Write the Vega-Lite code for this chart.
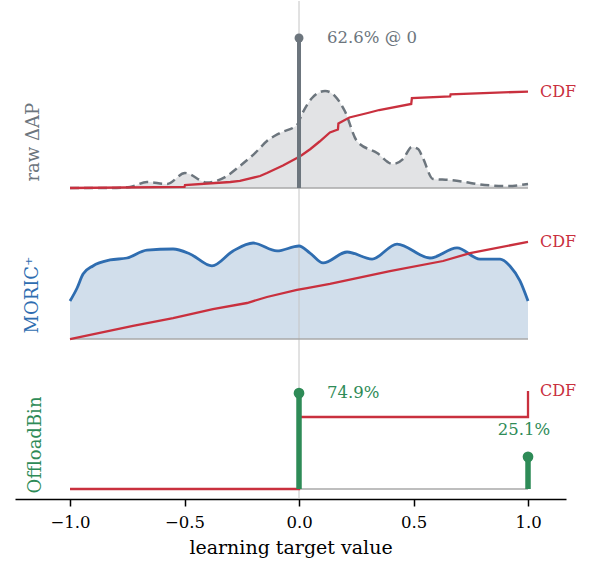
{
  "$schema": "https://vega.github.io/schema/vega-lite/v6.json",
  "padding": {"left": 15, "top": 0, "right": 28, "bottom": 5},
  "spacing": 0,
  "bounds": "flush",
  "config": {
    "font": "DejaVu Serif",
    "view": {"stroke": null},
    "axis": {"grid": false}
  },
  "datasets": {
    "rawDensity": [
      {"x": -1.0, "d": 0.0}, {"x": -0.825, "d": 0.0}, {"x": -0.738, "d": 0.007}, {"x": -0.664, "d": 0.04},
      {"x": -0.576, "d": 0.027}, {"x": -0.498, "d": 0.1}, {"x": -0.402, "d": 0.037}, {"x": -0.323, "d": 0.073},
      {"x": -0.258, "d": 0.147}, {"x": -0.192, "d": 0.233}, {"x": -0.14, "d": 0.313}, {"x": -0.083, "d": 0.367},
      {"x": -0.009, "d": 0.42}, {"x": 0.013, "d": 0.493}, {"x": 0.057, "d": 0.6}, {"x": 0.114, "d": 0.647},
      {"x": 0.157, "d": 0.613}, {"x": 0.2, "d": 0.513}, {"x": 0.253, "d": 0.313}, {"x": 0.341, "d": 0.233},
      {"x": 0.41, "d": 0.16}, {"x": 0.454, "d": 0.193}, {"x": 0.493, "d": 0.273}, {"x": 0.52, "d": 0.26},
      {"x": 0.541, "d": 0.2}, {"x": 0.585, "d": 0.06}, {"x": 0.659, "d": 0.053}, {"x": 0.725, "d": 0.04},
      {"x": 0.777, "d": 0.027}, {"x": 0.908, "d": 0.013}, {"x": 1.0, "d": 0.027}
    ],
    "rawCdf": [
      {"x": -1.0, "c": 0.0}, {"x": -0.5, "c": 0.007}, {"x": -0.498, "c": 0.02}, {"x": -0.3, "c": 0.04},
      {"x": -0.258, "c": 0.047}, {"x": -0.17, "c": 0.08}, {"x": -0.14, "c": 0.1}, {"x": -0.07, "c": 0.15},
      {"x": -0.009, "c": 0.2}, {"x": 0.013, "c": 0.22}, {"x": 0.05, "c": 0.26}, {"x": 0.09, "c": 0.31},
      {"x": 0.135, "c": 0.37}, {"x": 0.17, "c": 0.39}, {"x": 0.172, "c": 0.43}, {"x": 0.22, "c": 0.47},
      {"x": 0.3, "c": 0.5}, {"x": 0.35, "c": 0.52}, {"x": 0.49, "c": 0.56}, {"x": 0.493, "c": 0.6},
      {"x": 0.66, "c": 0.61}, {"x": 0.662, "c": 0.625}, {"x": 1.0, "c": 0.643}
    ],
    "rawStem": [{"x": 0, "h": 1.0, "label": "62.6% @ 0"}],
    "moricDensity": [
      {"x": -1.0, "d": 0.253}, {"x": -0.969, "d": 0.34}, {"x": -0.943, "d": 0.433}, {"x": -0.9, "d": 0.487},
      {"x": -0.825, "d": 0.527}, {"x": -0.751, "d": 0.54}, {"x": -0.664, "d": 0.593}, {"x": -0.55, "d": 0.6},
      {"x": -0.476, "d": 0.567}, {"x": -0.38, "d": 0.487}, {"x": -0.288, "d": 0.587}, {"x": -0.2, "d": 0.64},
      {"x": -0.096, "d": 0.587}, {"x": 0.0, "d": 0.62}, {"x": 0.048, "d": 0.573}, {"x": 0.105, "d": 0.507},
      {"x": 0.21, "d": 0.58}, {"x": 0.319, "d": 0.533}, {"x": 0.428, "d": 0.633}, {"x": 0.572, "d": 0.54},
      {"x": 0.69, "d": 0.607}, {"x": 0.79, "d": 0.533}, {"x": 0.878, "d": 0.533}, {"x": 0.921, "d": 0.487},
      {"x": 0.965, "d": 0.387}, {"x": 1.0, "d": 0.253}
    ],
    "moricCdf": [
      {"x": -1.0, "c": 0.0}, {"x": -0.725, "c": 0.087}, {"x": -0.55, "c": 0.14}, {"x": -0.376, "c": 0.2},
      {"x": -0.227, "c": 0.24}, {"x": -0.14, "c": 0.28}, {"x": -0.009, "c": 0.327}, {"x": 0.035, "c": 0.34},
      {"x": 0.135, "c": 0.367}, {"x": 0.397, "c": 0.453}, {"x": 0.629, "c": 0.52}, {"x": 0.747, "c": 0.573},
      {"x": 1.0, "c": 0.647}
    ],
    "binCdf": [
      {"i": 0, "x": -1.0, "c": 0.0}, {"i": 1, "x": 0.0, "c": 0.0}, {"i": 2, "x": 0.0, "c": 0.5625},
      {"i": 3, "x": 1.0, "c": 0.5625}, {"i": 4, "x": 1.0, "c": 0.766}
    ],
    "binStem": [
      {"x": 0, "p": 0.749, "label": "74.9%"},
      {"x": 1, "p": 0.251, "label": "25.1%"}
    ],
    "one": [{"z": 0}],
    "base": [{"a": -1, "b": 1, "z": 0}]
  },
  "vconcat": [
    {
      "width": 551,
      "height": 190,
      "layer": [
        {
          "data": {"name": "rawDensity"},
          "mark": {"type": "area", "color": "#e2e3e5", "interpolate": "monotone"},
          "encoding": {
            "x": {"field": "x", "type": "quantitative", "scale": {"domain": [-1.2402, 1.1659], "nice": false, "zero": false}, "axis": null},
            "y": {"field": "d", "type": "quantitative", "scale": {"domain": [-0.02, 1.2467], "nice": false, "zero": false},
              "axis": {"title": "raw ΔAP", "domain": false, "ticks": false, "labels": false, "titleX": 23, "titleY": 180,
                "titleAngle": -90, "titleAlign": "left", "titleBaseline": "alphabetic", "titleColor": "#6c757d",
                "titleFontSize": 18, "titleFontWeight": "normal"}}
          }
        },
        {
          "data": {"name": "one"},
          "mark": {"type": "rule", "color": "#c4c4c4", "strokeWidth": 1},
          "encoding": {"x": {"field": "z", "type": "quantitative", "axis": null}}
        },
        {
          "data": {"name": "base"},
          "mark": {"type": "rule", "color": "#a8a8a8", "strokeWidth": 1.5},
          "encoding": {"x": {"field": "a", "type": "quantitative", "axis": null}, "x2": {"field": "b"}, "y": {"field": "z", "type": "quantitative"}}
        },
        {
          "data": {"name": "rawDensity"},
          "mark": {"type": "line", "color": "#6c757d", "strokeWidth": 2.5, "strokeDash": [9, 5], "interpolate": "monotone"},
          "encoding": {"x": {"field": "x", "type": "quantitative", "axis": null}, "y": {"field": "d", "type": "quantitative"}}
        },
        {
          "data": {"name": "rawCdf"},
          "mark": {"type": "line", "color": "#c9303e", "strokeWidth": 2.3},
          "encoding": {"x": {"field": "x", "type": "quantitative", "axis": null}, "y": {"field": "c", "type": "quantitative"}}
        },
        {
          "data": {"name": "rawStem"},
          "mark": {"type": "rule", "color": "#6c757d", "strokeWidth": 4},
          "encoding": {"x": {"field": "x", "type": "quantitative", "axis": null}, "y": {"field": "h", "type": "quantitative"}, "y2": {"datum": 0}}
        },
        {
          "data": {"name": "rawStem"},
          "mark": {"type": "point", "filled": true, "color": "#6c757d", "size": 80, "opacity": 1},
          "encoding": {"x": {"field": "x", "type": "quantitative", "axis": null}, "y": {"field": "h", "type": "quantitative"}}
        },
        {
          "data": {"name": "rawStem"},
          "mark": {"type": "text", "color": "#6c757d", "fontSize": 16.5, "align": "left", "baseline": "middle", "dx": 28},
          "encoding": {"x": {"field": "x", "type": "quantitative", "axis": null}, "y": {"field": "h", "type": "quantitative"}, "text": {"field": "label"}}
        },
        {
          "data": {"values": [{"x": 1.0, "c": 0.643, "label": "CDF"}]},
          "mark": {"type": "text", "color": "#c9303e", "fontSize": 16, "align": "left", "baseline": "middle", "dx": 12},
          "encoding": {"x": {"field": "x", "type": "quantitative", "axis": null}, "y": {"field": "c", "type": "quantitative"}, "text": {"field": "label"}}
        }
      ]
    },
    {
      "width": 551,
      "height": 150,
      "layer": [
        {
          "data": {"name": "moricDensity"},
          "mark": {"type": "area", "color": "#d1deeb", "interpolate": "monotone"},
          "encoding": {
            "x": {"field": "x", "type": "quantitative", "scale": {"domain": [-1.2402, 1.1659], "nice": false, "zero": false}, "axis": null},
            "y": {"field": "d", "type": "quantitative", "scale": {"domain": [-0.0133, 0.9867], "nice": false, "zero": false},
              "axis": {"title": "MORIC⁺", "domain": false, "ticks": false, "labels": false, "titleX": 22, "titleY": 142,
                "titleAngle": -90, "titleAlign": "left", "titleBaseline": "alphabetic", "titleColor": "#2f6db0",
                "titleFontSize": 18, "titleFontWeight": "normal"}}
          }
        },
        {
          "data": {"name": "one"},
          "mark": {"type": "rule", "color": "#c4c4c4", "strokeWidth": 1},
          "encoding": {"x": {"field": "z", "type": "quantitative", "axis": null}}
        },
        {
          "data": {"name": "base"},
          "mark": {"type": "rule", "color": "#a8a8a8", "strokeWidth": 1.5},
          "encoding": {"x": {"field": "a", "type": "quantitative", "axis": null}, "x2": {"field": "b"}, "y": {"field": "z", "type": "quantitative"}}
        },
        {
          "data": {"name": "moricDensity"},
          "mark": {"type": "line", "color": "#2f6db0", "strokeWidth": 2.8, "interpolate": "monotone"},
          "encoding": {"x": {"field": "x", "type": "quantitative", "axis": null}, "y": {"field": "d", "type": "quantitative"}}
        },
        {
          "data": {"name": "moricCdf"},
          "mark": {"type": "line", "color": "#c9303e", "strokeWidth": 2.3},
          "encoding": {"x": {"field": "x", "type": "quantitative", "axis": null}, "y": {"field": "c", "type": "quantitative"}}
        },
        {
          "data": {"values": [{"x": 1.0, "c": 0.647, "label": "CDF"}]},
          "mark": {"type": "text", "color": "#c9303e", "fontSize": 16, "align": "left", "baseline": "middle", "dx": 12},
          "encoding": {"x": {"field": "x", "type": "quantitative", "axis": null}, "y": {"field": "c", "type": "quantitative"}, "text": {"field": "label"}}
        }
      ]
    },
    {
      "width": 551,
      "height": 158,
      "layer": [
        {
          "data": {"name": "one"},
          "mark": {"type": "rule", "color": "#c4c4c4", "strokeWidth": 1},
          "encoding": {"x": {"field": "z", "type": "quantitative"}}
        },
        {
          "data": {"name": "base"},
          "mark": {"type": "rule", "color": "#a8a8a8", "strokeWidth": 1.5},
          "encoding": {"x": {"field": "a", "type": "quantitative"}, "x2": {"field": "b"}, "y": {"field": "z", "type": "quantitative"}}
        },
        {
          "data": {"name": "binCdf"},
          "mark": {"type": "line", "color": "#c9303e", "strokeWidth": 2.3},
          "encoding": {
            "x": {"field": "x", "type": "quantitative", "scale": {"domain": [-1.2402, 1.1659], "nice": false, "zero": false},
              "axis": {"title": "learning target value", "values": [-1, -0.5, 0, 0.5, 1], "format": ".1f",
                "domainColor": "#000000", "domainWidth": 1.5, "tickColor": "#000000", "tickWidth": 1.5, "tickSize": 7,
                "labelFontSize": 16.5, "labelColor": "#000000", "labelPadding": 8, "titleFontSize": 19, "titleFontWeight": "normal",
                "titleColor": "#000000", "titlePadding": 8}},
            "y": {"field": "c", "type": "quantitative", "scale": {"domain": [-0.078125, 1.15625], "nice": false, "zero": false},
              "axis": {"title": "OffloadBin", "domain": false, "ticks": false, "labels": false, "titleX": 25, "titleY": 152,
                "titleAngle": -90, "titleAlign": "left", "titleBaseline": "alphabetic", "titleColor": "#2e8b57",
                "titleFontSize": 18, "titleFontWeight": "normal"}},
            "order": {"field": "i", "type": "quantitative"}
          }
        },
        {
          "data": {"name": "binStem"},
          "mark": {"type": "rule", "color": "#2e8b57", "strokeWidth": 5.5},
          "encoding": {"x": {"field": "x", "type": "quantitative"}, "y": {"field": "p", "type": "quantitative"}, "y2": {"datum": 0}}
        },
        {
          "data": {"name": "binStem"},
          "mark": {"type": "point", "filled": true, "color": "#2e8b57", "size": 115, "opacity": 1},
          "encoding": {"x": {"field": "x", "type": "quantitative"}, "y": {"field": "p", "type": "quantitative"}}
        },
        {
          "data": {"name": "binStem"},
          "transform": [{"filter": "datum.x == 0"}],
          "mark": {"type": "text", "color": "#2e8b57", "fontSize": 16.5, "align": "left", "baseline": "middle", "dx": 28},
          "encoding": {"x": {"field": "x", "type": "quantitative"}, "y": {"field": "p", "type": "quantitative"}, "text": {"field": "label"}}
        },
        {
          "data": {"name": "binStem"},
          "transform": [{"filter": "datum.x == 1"}],
          "mark": {"type": "text", "color": "#2e8b57", "fontSize": 16.5, "align": "center", "baseline": "middle", "dx": -4, "dy": -27},
          "encoding": {"x": {"field": "x", "type": "quantitative"}, "y": {"field": "p", "type": "quantitative"}, "text": {"field": "label"}}
        },
        {
          "data": {"values": [{"x": 1.0, "c": 0.766, "label": "CDF"}]},
          "mark": {"type": "text", "color": "#c9303e", "fontSize": 16, "align": "left", "baseline": "middle", "dx": 12},
          "encoding": {"x": {"field": "x", "type": "quantitative"}, "y": {"field": "c", "type": "quantitative"}, "text": {"field": "label"}}
        }
      ]
    }
  ]
}
